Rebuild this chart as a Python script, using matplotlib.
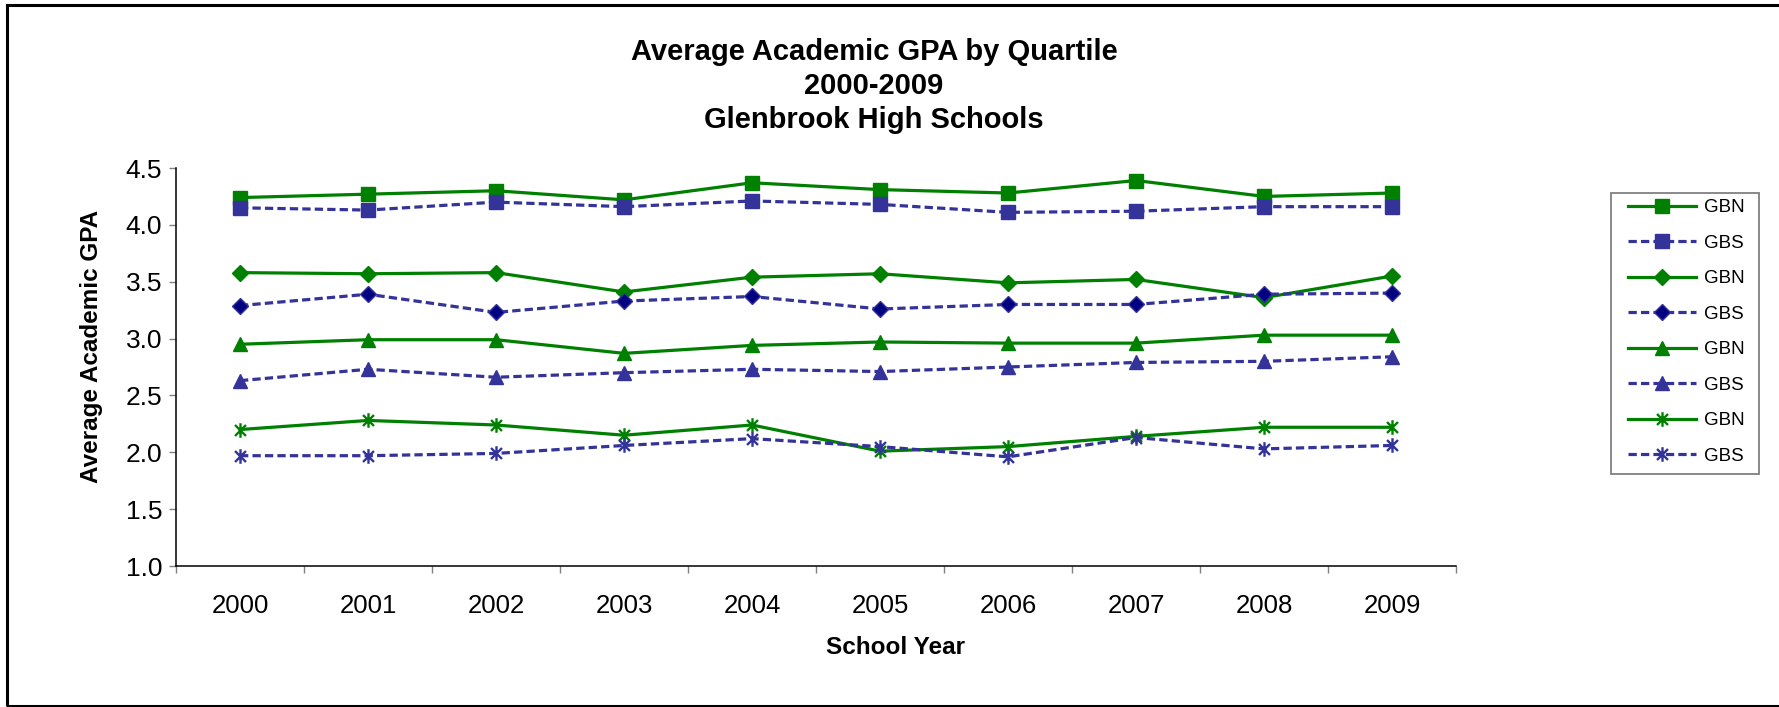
import numpy as np
import matplotlib
matplotlib.use("Agg")
import matplotlib.pyplot as plt
from matplotlib.path import Path
from matplotlib.patches import Rectangle

plt.rcParams['font.family'] = ['Liberation Sans', 'DejaVu Sans']

years = ['2000', '2001', '2002', '2003', '2004', '2005', '2006', '2007', '2008', '2009']

# четыре квартиля, GBN (сплошная) и GBS (пунктир)
gbn_q1 = [4.24, 4.27, 4.30, 4.22, 4.37, 4.31, 4.28, 4.39, 4.25, 4.28]
gbs_q1 = [4.15, 4.13, 4.20, 4.16, 4.21, 4.18, 4.11, 4.12, 4.16, 4.16]
gbn_q2 = [3.58, 3.57, 3.58, 3.41, 3.54, 3.57, 3.49, 3.52, 3.36, 3.55]
gbs_q2 = [3.29, 3.39, 3.23, 3.33, 3.37, 3.26, 3.30, 3.30, 3.39, 3.40]
gbn_q3 = [2.95, 2.99, 2.99, 2.87, 2.94, 2.97, 2.96, 2.96, 3.03, 3.03]
gbs_q3 = [2.63, 2.73, 2.66, 2.70, 2.73, 2.71, 2.75, 2.79, 2.80, 2.84]
gbn_q4 = [2.20, 2.28, 2.24, 2.15, 2.24, 2.01, 2.05, 2.14, 2.22, 2.22]
gbs_q4 = [1.97, 1.97, 1.99, 2.06, 2.12, 2.05, 1.96, 2.13, 2.03, 2.06]

green = '#008000'
blue = '#333399'
navy = '#000080'

# звездочка как в Excel: X + вертикальная черта
star = Path([(0, -1), (0, 1), (-0.75, -0.75), (0.75, 0.75), (-0.75, 0.75), (0.75, -0.75)],
            [Path.MOVETO, Path.LINETO] * 3)

W, H = 1779, 707
fig = plt.figure(figsize=(W / 100, H / 100), dpi=100)
ax = fig.add_axes([176 / W, 1 - 566 / H, 1280 / W, (566 - 168) / H])

x = np.arange(len(years))
lw = 2.3
dash = (2.6, 1.3)

ax.plot(x, gbn_q1, color=green, lw=lw, marker='s', ms=10, mfc=green, mec=green, label='GBN')
ax.plot(x, gbs_q1, color=blue, lw=lw, dashes=dash, marker='s', ms=10, mfc=blue, mec=blue, label='GBS')
ax.plot(x, gbn_q2, color=green, lw=lw, marker='D', ms=8.5, mfc=green, mec=green, label='GBN')
ax.plot(x, gbs_q2, color=blue, lw=lw, dashes=dash, marker='D', ms=8.5, mfc=navy, mec=blue, label='GBS')
ax.plot(x, gbn_q3, color=green, lw=lw, marker='^', ms=10.5, mfc=green, mec=green, label='GBN')
ax.plot(x, gbs_q3, color=blue, lw=lw, dashes=dash, marker='^', ms=10.5, mfc=blue, mec=blue, label='GBS')
ax.plot(x, gbn_q4, color=green, lw=lw, marker=star, ms=10.5, mfc='none', mec=green, mew=1.7, label='GBN')
ax.plot(x, gbs_q4, color=blue, lw=lw, dashes=dash, marker=star, ms=10.5, mfc='none', mec=blue, mew=1.7, label='GBS')

ax.set_xlim(-0.5, len(years) - 0.5)
ax.set_ylim(1.0, 4.5)
ax.set_yticks(np.arange(1.0, 4.51, 0.5))
ax.set_yticklabels(['%.1f' % v for v in np.arange(1.0, 4.51, 0.5)])
ax.set_xticks(np.arange(-0.5, len(years), 1))
ax.set_xticklabels([])
ax.set_xticks(x, minor=True)
ax.set_xticklabels(years, minor=True)

ax.tick_params(axis='y', which='major', direction='out', length=5, width=1, color='#808080',
               labelsize=19, pad=5)
ax.tick_params(axis='x', which='major', direction='out', length=5, width=1, color='#808080')
ax.tick_params(axis='x', which='minor', length=0, labelsize=18.5, pad=20)

for s in ['top', 'right']:
    ax.spines[s].set_visible(False)
for s in ['left', 'bottom']:
    ax.spines[s].set_linewidth(1.1)
    ax.spines[s].set_color('black')

ax.set_ylabel('Average Academic GPA', fontsize=17.5, fontweight='bold')
ax.yaxis.set_label_coords((103 - 176) / 1280, (566 - 346) / 398)
ax.set_xlabel('School Year', fontsize=17.5, fontweight='bold')
ax.xaxis.set_label_coords((895 - 176) / 1280, (566 - 636) / 398)

title_lines = ['Average Academic GPA by Quartile', '2000-2009', 'Glenbrook High Schools']
for i, t in enumerate(title_lines):
    fig.text(874 / W, 1 - (52 + 34 * i) / H, t, ha='center', va='center',
             fontsize=21, fontweight='bold')

# легенда без рамки, рамку рисуем отдельно
ax.legend(loc='upper left', bbox_to_anchor=(1628 / W, 1 - 199 / H),
          bbox_transform=fig.transFigure, fontsize=13.5, frameon=False,
          handlelength=3.6, handletextpad=0.43, labelspacing=0.98,
          borderpad=0, borderaxespad=0)
fig.patches.append(Rectangle((1611 / W, 1 - 474 / H), 148 / W, 281 / H, transform=fig.transFigure,
                             fill=False, edgecolor='#808080', lw=1.3, figure=fig))

# рамка вокруг всей диаграммы
fig.patches.append(Rectangle((7 / W, 1 / H), 1.5, (H - 6) / H, transform=fig.transFigure,
                             fill=False, edgecolor='black', lw=2.2, figure=fig))

fig.savefig('out.png', dpi=100)
